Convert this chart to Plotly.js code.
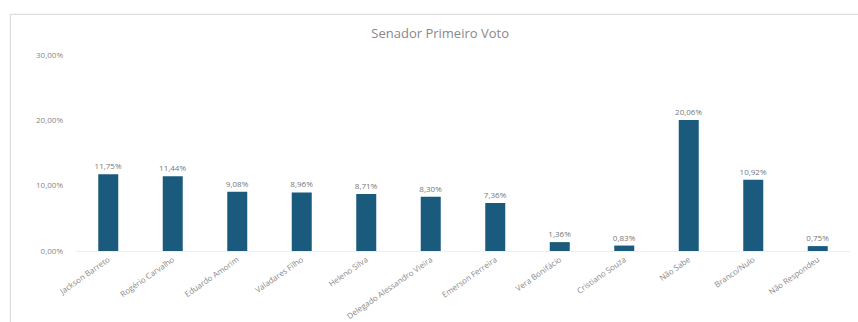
<!DOCTYPE html>
<html>
<head>
<meta charset="utf-8">
<script src="https://cdn.plot.ly/plotly-3.0.1.min.js"></script>
<style>
html,body{margin:0;padding:0;background:#fff;width:858px;height:322px;overflow:hidden;}
#card{position:absolute;left:10px;top:14px;width:860px;height:330px;border:1px solid #dcdcdc;box-shadow:0 0 2px rgba(0,0,0,0.08);}
#chart{position:absolute;left:0;top:0;width:858px;height:322px;}
</style>
</head>
<body>
<div id="card"></div>
<div id="chart"></div>
<script>
const categories = [
  "Jackson Barreto",
  "Rogério Carvalho",
  "Eduardo Amorim",
  "Valadares Filho",
  "Heleno Silva",
  "Delegado Alessandro Vieira",
  "Emerson Ferreira",
  "Vera Bonifácio",
  "Cristiano Souza",
  "Não Sabe",
  "Branco/Nulo",
  "Não Respondeu"
];
const values = [11.75, 11.44, 9.08, 8.96, 8.71, 8.30, 7.36, 1.36, 0.83, 20.06, 10.92, 0.75];
const yTicks = [0, 10, 20, 30];
const yTickText = ["0,00%", "10,00%", "20,00%", "30,00%"];

const trace = {
  type: "bar",
  x: categories,
  y: values,
  marker: {color: "#1a5a7d"},
  texttemplate: "%{y:.2f}%",
  textposition: "outside",
  constraintext: "none",
  cliponaxis: false,
  textfont: {family: "Open Sans, sans-serif", size: 8, color: "#777"},
  hoverinfo: "skip"
};

const layout = {
  width: 858, height: 322,
  margin: {l: 76, r: 8, t: 55, b: 71},
  paper_bgcolor: "rgba(0,0,0,0)",
  plot_bgcolor: "rgba(0,0,0,0)",
  separators: ",.",
  bargap: 0.69,
  showlegend: false,
  uniformtext: {mode: false},
  title: {
    text: "Senador Primeiro Voto",
    x: 0.513, xanchor: "center",
    y: 0.895, yanchor: "middle",
    font: {family: "Open Sans, sans-serif", size: 13, color: "#888"}
  },
  xaxis: {
    type: "category",
    tickangle: -35,
    tickfont: {family: "Open Sans, sans-serif", size: 8, color: "#888"},
    showgrid: false,
    showline: true,
    linecolor: "#eeeeee",
    linewidth: 1,
    ticks: ""
  },
  yaxis: {
    range: [0, 30],
    tickmode: "array",
    tickvals: yTicks,
    ticktext: yTickText,
    tickfont: {family: "Open Sans, sans-serif", size: 8, color: "#888"},
    showgrid: false,
    zeroline: false,
    showline: false,
    ticks: "",
    ticklabelstandoff: 12
  }
};

Plotly.newPlot("chart", [trace], layout, {displayModeBar: false, staticPlot: true});
</script>
</body>
</html>
